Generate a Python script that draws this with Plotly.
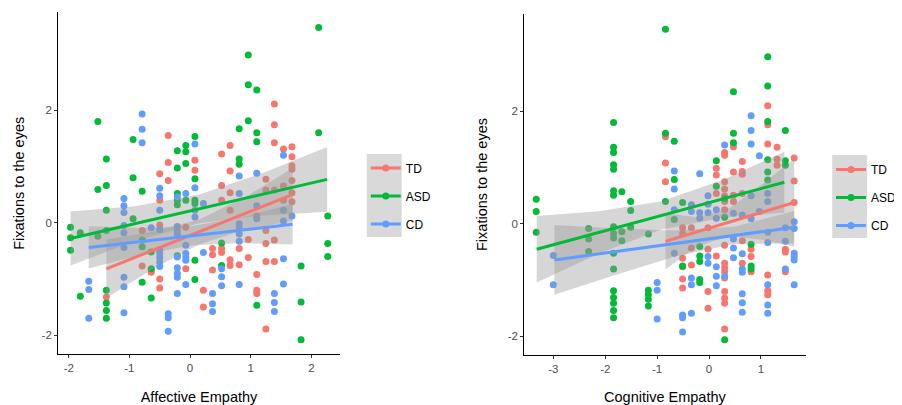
import plotly.graph_objects as go

# The page body has an 8px margin, so the figure is sized to fit the 902x405 window.
W, H = 894, 397
OFF = 8


def PX(px):
    return (px - OFF) / W


def PY(py):
    return 1 - (py - OFF) / H


groups = ["TD", "ASD", "CD"]
colors = {"TD": "#F8766D", "ASD": "#00BA38", "CD": "#619CFF"}

# ---------------- Affective Empathy panel (points) ----------------
aff_td_x = ([-1.38] + [-0.79]*2 + [-0.64]*2 + [-0.50]*5 + [-0.36]*3 + [-0.07]*2 + [0.08]*2 +
            [0.22]*2 + [0.37]*3 + [0.52]*5 + [0.66]*6 + [0.81]*2 + [0.96]*2 + [1.10]*4 +
            [1.25]*6 + [1.39]*6 + [1.54]*3 + [1.68]*7)
aff_td_y = [-1.32,
            -0.14, -0.77,
            -0.84, -0.88,
            0.87, 0.40, -0.04, -1.00, -1.16,
            1.55, 1.07, 0.75,
            -0.08, -0.82,
            1.11, 0.93,
            -1.20, -1.50,
            -0.46, -0.57, -0.84,
            1.22, 0.66, 0.40, -0.46, -0.53,
            1.37, 0.92, 0.53, 0.22, -0.66, -0.76,
            -0.46, -0.75,
            -0.30, -0.62,
            0.12, -0.92, -1.20, -1.26,
            0.77, 0.58, -0.14, -0.37, -0.69, -1.89,
            2.11, 1.74, 1.42, 0.58, -0.31, -0.69,
            1.31, 0.65, 0.40,
            1.35, 1.17, 1.01, 0.95, 0.75, 0.53, 0.37]

aff_asd_x = ([-1.97]*3 + [-1.81]*2 + [-1.52]*3 + [-1.38]*8 + [-0.94]*3 + [-0.79]*4 + [-0.64]*3 +
             [-0.21]*6 + [-0.07]*4 + [0.08]*6 + [0.52]*2 + [0.81]*3 + [0.96]*3 + [1.10]*4 +
             [1.83]*3 + [2.12]*2 + [2.27]*3)
aff_asd_y = [-0.08, -0.27, -0.49,
             -0.18, -1.31,
             1.80, 0.59, -0.24,
             1.13, 0.66, 0.22, -0.14, -1.20, -1.43, -1.56, -1.70,
             1.48, 0.80, 0.07,
             0.56, -0.31, -0.43, -1.06,
             -0.52, -0.82, -1.34,
             1.28, 0.97, 0.52, 0.40, 0.32, -0.59,
             1.37, 1.26, 1.05, 0.40,
             1.53, 0.78, 0.40, 0.34, -0.67, -1.01,
             -0.36, -0.76,
             1.67, 1.13, 1.04,
             2.98, 2.45, 1.81,
             2.36, 1.60, 1.44, -1.47,
             -0.77, -1.41, -2.08,
             3.47, 1.60,
             0.12, -0.37, -0.60]

aff_cd_x = ([-1.67]*3 + [-1.09]*9 + [-0.79]*3 + [-0.64] + [-0.50]*9 + [-0.36]*3 + [-0.21]*9 +
            [-0.07]*6 + [0.08]*4 + [0.22]*2 + [0.37]*3 + [0.52]*3 + [0.81]*7 + [1.10]*3 +
            [1.39]*3 + [1.54]*5 + [1.68])
aff_cd_y = [-1.04, -1.19, -1.70,
            0.43, 0.30, 0.18, -0.05, -0.18, -0.44, -0.97, -1.14, -1.60,
            1.93, 1.66, 1.42,
            -0.09,
            0.61, 0.48, 0.22, -0.12, -0.48, -0.55, -0.62, -0.70, -0.78,
            -1.62, -1.69, -1.93,
            0.46, -0.07, -0.14, -0.20, -0.61, -0.80, -0.90, -0.97, -1.26,
            0.52, -0.40, -0.55, -0.61, -0.67, -1.10,
            1.40, 0.62, 0.22, 0.10,
            0.34, -0.53,
            -1.26, -1.44, -1.58,
            -0.82, -0.96, -1.12,
            0.83, 0.52, -0.02, -0.08, -0.20, -0.33, -1.10,
            0.88, 0.30, 0.07,
            -1.26, -1.42, -1.58,
            1.20, 0.22, 0.03, -0.64, -1.09,
            0.12]

# ---------------- Cognitive Empathy panel (points) ----------------
cog_td_x = ([-0.84]*3 + [-0.51]*6 + [-0.34]*3 + [-0.02]*4 + [0.14]*4 + [0.30]*16 + [0.47]*4 +
            [0.64]*6 + [0.81]*3 + [1.13]*6 + [1.31]*3 + [1.47]*3 + [1.64]*3)
cog_td_y = [1.55, 1.08, 0.75,
            -0.07, -0.17, -0.61, -0.76, -0.98, -1.14,
            -0.07, -0.43, -0.73,
            -0.07, -0.45, -1.20, -1.50,
            0.99, 0.87, 0.54, -0.57,
            1.27, 1.22, 0.75, 0.62, 0.50, 0.40, 0.25, -0.38, -0.70, -0.78, -0.85, -0.96,
            -1.20, -1.32, -1.41, -1.87,
            1.37, 0.92, 0.51, 0.40,
            1.11, 0.93, 0.88, 0.54, -0.30, -0.70,
            -0.45, -0.58, -0.85,
            2.10, 1.76, 1.42, -0.91, -1.19, -1.26,
            1.36, 1.15, 1.04,
            -0.45, -0.50, -0.85,
            1.17, 0.76, 0.38]

cog_asd_x = ([-3.33]*3 + [-2.32]*3 + [-1.84]*17 + [-1.68]*3 + [-1.51]*3 + [-1.17]*5 + [-0.84]*3 +
             [-0.67]*3 + [-0.51]*2 + [-0.18]*5 + [0.14]*2 + [0.30]*3 + [0.47]*3 + [0.81]*3 +
             [1.13]*6 + [1.47]*3)
cog_asd_y = [0.44, 0.22, -0.15,
             -0.08, -0.27, -0.49,
             1.80, 1.36, 1.27, 1.05, 0.97, 0.59, 0.51, -0.05, -0.17, -0.25, -0.52, -0.80,
             -1.19, -1.31, -1.41, -1.54, -1.67,
             0.57, -0.14, -0.30,
             0.40, 0.24, -0.06,
             -0.18, -1.18, -1.26, -1.34, -1.46,
             3.46, 1.61, 0.40,
             1.47, 0.79, 0.08,
             0.38, -0.75,
             -0.40, -0.57, -0.67, -0.99, -1.04,
             1.12, 0.67,
             0.45, 0.12, -2.06,
             2.35, 1.61, 1.44,
             -0.36, -0.75, -0.80,
             2.97, 2.45, 1.82, 1.14, 0.92, 0.78,
             1.66, 1.12, 1.04]

cog_cd_x = ([-3.0]*2 + [-1.0]*3 + [-0.67]*4 + [-0.51]*3 + [-0.34]*5 + [-0.18]*3 + [-0.02]*5 +
            [0.14]*5 + [0.30]*2 + [0.47]*4 + [0.64]*7 + [0.81]*5 + [0.97]*2 + [1.13]*7 +
            [1.47]*3 + [1.64]*6)
cog_cd_y = [-0.56, -1.08,
            -1.04, -1.18, -1.69,
            0.94, 0.62, 0.25, -0.52,
            -1.62, -1.67, -1.92,
            0.34, 0.22, -0.96, -1.08, -1.59,
            0.89, 0.20, 0.10,
            0.50, 0.35, 0.20, -0.58, -0.70,
            0.25, 0.10, -0.76, -0.93, -1.10,
            1.40, -0.93,
            0.19, -0.27, -0.43, -0.60,
            0.16, -0.53, -0.80, -0.86, -1.24, -1.40, -1.57,
            1.92, 1.66, 1.42, 0.50, 0.09,
            1.21, 0.22,
            0.54, 0.40, -0.15, -0.33, -1.08, -1.44, -1.59,
            -0.07, -0.31, -0.80,
            0.04, -0.08, -0.52, -0.58, -0.64, -1.08]

# ---------------- Fitted lines and confidence bands ----------------
aff_fit = {
    "TD":  {"x": [-1.38, -0.61, 0.155, 0.92, 1.69],
            "fit": [-0.82, -0.489, -0.16, 0.17, 0.50],
            "lo": [-1.34, -0.821, -0.382, -0.123, 0.03],
            "hi": [-0.30, -0.157, 0.062, 0.463, 0.97]},
    "ASD": {"x": [-1.97, -0.91, 0.15, 1.20, 2.26],
            "fit": [-0.28, -0.017, 0.246, 0.506, 0.77],
            "lo": [-0.76, -0.324, -0.01, 0.127, 0.195],
            "hi": [0.20, 0.29, 0.50, 0.885, 1.345]},
    "CD":  {"x": [-1.67, -0.83, 0.01, 0.85, 1.69],
            "fit": [-0.44, -0.337, -0.235, -0.132, -0.03],
            "lo": [-0.815, -0.578, -0.405, -0.362, -0.39],
            "hi": [-0.065, -0.096, -0.065, 0.098, 0.33]},
}
cog_fit = {
    "TD":  {"x": [-0.84, -0.22, 0.40, 1.02, 1.64],
            "fit": [-0.31, -0.138, 0.035, 0.207, 0.38],
            "lo": [-0.81, -0.392, -0.213, -0.284, -0.40],
            "hi": [0.19, 0.116, 0.283, 0.698, 1.16]},
    "ASD": {"x": [-3.32, -2.13, -0.935, 0.26, 1.45],
            "fit": [-0.45, -0.153, 0.146, 0.444, 0.74],
            "lo": [-1.04, -0.53, -0.106, 0.108, 0.20],
            "hi": [0.14, 0.224, 0.398, 0.78, 1.28]},
    "CD":  {"x": [-2.98, -1.825, -0.67, 0.485, 1.64],
            "fit": [-0.64, -0.495, -0.35, -0.205, -0.06],
            "lo": [-1.26, -0.912, -0.583, -0.358, -0.35],
            "hi": [-0.02, -0.078, -0.117, -0.052, 0.23]},
}

aff_ticks = [-2, -1, 0, 1, 2]
aff_tick_labels = ["-2", "-1", "0", "1", "2"]
cog_ticks = [-3, -2, -1, 0, 1]
cog_tick_labels = ["-3", "-2", "-1", "0", "1"]
y_ticks = [-2, 0, 2]
y_tick_labels = ["-2", "0", "2"]

points = {
    1: {"TD": (aff_td_x, aff_td_y), "ASD": (aff_asd_x, aff_asd_y), "CD": (aff_cd_x, aff_cd_y)},
    2: {"TD": (cog_td_x, cog_td_y), "ASD": (cog_asd_x, cog_asd_y), "CD": (cog_cd_x, cog_cd_y)},
}
fits = {1: aff_fit, 2: cog_fit}

fig = go.Figure()
band_fill = "rgba(153,153,153,0.4)"

for p in (1, 2):
    xa = "x" if p == 1 else "x2"
    ya = "y" if p == 1 else "y2"
    for g in groups:
        xs, ys = points[p][g]
        fig.add_trace(go.Scatter(x=xs, y=ys, mode="markers", xaxis=xa, yaxis=ya,
                                 marker=dict(size=7, color=colors[g], line=dict(width=0)),
                                 showlegend=False, hoverinfo="skip"))
    for g in groups:
        f = fits[p][g]
        fig.add_trace(go.Scatter(x=f["x"] + f["x"][::-1], y=f["hi"] + f["lo"][::-1],
                                 mode="lines", fill="toself", fillcolor=band_fill,
                                 line=dict(width=0), xaxis=xa, yaxis=ya,
                                 showlegend=False, hoverinfo="skip"))
    for g in groups:
        f = fits[p][g]
        fig.add_trace(go.Scatter(x=f["x"], y=f["fit"], mode="lines", xaxis=xa, yaxis=ya,
                                 line=dict(color=colors[g], width=3),
                                 showlegend=False, hoverinfo="skip"))
    # legend entries
    for g in groups:
        fig.add_trace(go.Scatter(x=[None], y=[None], mode="lines+markers", name=g,
                                 xaxis=xa, yaxis=ya, legendgroup=f"{g}{p}",
                                 legend="legend" if p == 1 else "legend2",
                                 line=dict(color=colors[g], width=3),
                                 marker=dict(size=7, color=colors[g])))

axis_common = dict(showgrid=False, zeroline=False, showline=True, linecolor="black",
                   linewidth=1, ticks="outside", ticklen=3, tickwidth=1, tickcolor="#333333",
                   automargin=False,
                   tickfont=dict(family="Liberation Sans, Arial", size=11.5, color="#4D4D4D"))
title_font = dict(family="Liberation Sans, Arial", size=14.5, color="black")
legend_font = dict(family="Liberation Sans, Arial", size=12, color="black")

fig.update_layout(
    width=W, height=H, margin=dict(l=0, r=0, t=0, b=0),
    paper_bgcolor="white", plot_bgcolor="white",
    font=dict(family="Liberation Sans, Arial"),
    xaxis=dict(domain=[PX(58.3), PX(341)], range=[-2.175, 2.47],
               tickvals=aff_ticks, ticktext=aff_tick_labels,
               title=dict(text="Affective Empathy", font=title_font, standoff=20), **axis_common),
    yaxis=dict(domain=[PY(354.3), PY(12.3)], range=[-2.34, 3.74],
               tickvals=y_ticks, ticktext=y_tick_labels,
               title=dict(text="Fixations to the eyes", font=title_font, standoff=13), **axis_common),
    xaxis2=dict(domain=[PX(526), PX(808.3)], range=[-3.56, 1.86],
                tickvals=cog_ticks, ticktext=cog_tick_labels, anchor="y2",
                title=dict(text="Cognitive Empathy", font=title_font, standoff=20), **axis_common),
    yaxis2=dict(domain=[PY(355), PY(14)], range=[-2.33, 3.73],
                tickvals=y_ticks, ticktext=y_tick_labels, anchor="x2",
                title=dict(text="Fixations to the eyes", font=title_font, standoff=16), **axis_common),
    legend=dict(x=PX(367), y=PY(153.5), xanchor="left", yanchor="top",
                bgcolor="rgba(0,0,0,0)", tracegroupgap=9, traceorder="grouped",
                font=legend_font),
    legend2=dict(x=PX(834), y=PY(155), xanchor="left", yanchor="top",
                 bgcolor="rgba(0,0,0,0)", tracegroupgap=9, traceorder="grouped",
                 font=legend_font),
    shapes=[
        dict(type="rect", xref="paper", yref="paper", x0=PX(368), x1=PX(403),
             y0=PY(237), y1=PY(154), fillcolor="#D9D9D9", line=dict(width=0), layer="below"),
        dict(type="rect", xref="paper", yref="paper", x0=PX(835), x1=PX(870),
             y0=PY(238), y1=PY(155), fillcolor="#D9D9D9", line=dict(width=0), layer="below"),
    ],
)

fig.write_html("out.html")
